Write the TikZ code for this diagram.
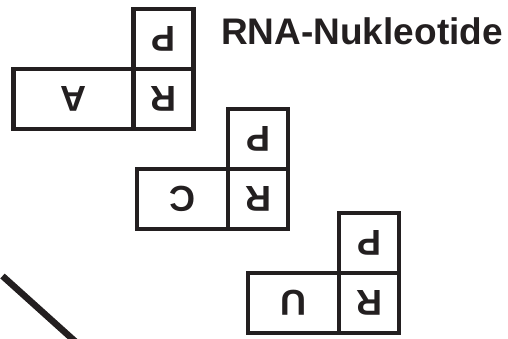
\documentclass[tikz,border=0pt]{standalone}
\usepackage{fontspec}
\setmainfont{Liberation Sans}
\usepackage{graphicx}
\usetikzlibrary{positioning}
\definecolor{ink}{HTML}{231F20}
\newcommand{\flipped}[1]{\rotatebox[origin=c]{180}{#1}}
\tikzset{
    unit-box/.style = {draw=ink, line width=4.5pt, rectangle, outer sep=0pt, inner sep=0pt, minimum width=60pt, minimum height=60pt, text=ink, font=\fontsize{36}{36}\selectfont\bfseries},
    base-box/.style = {unit-box, minimum width=#1},
    title-text/.style = {text=ink, font=\fontsize{37}{37}\selectfont\bfseries, inner sep=0pt, anchor=base west},
}

\begin{document}
\begin{tikzpicture}[x=1pt,y=1pt]
\useasboundingbox (0,0) rectangle (508,338);
\clip (0,0) rectangle (508,338);

\node [unit-box] (ribose-a) at (163.5,239) {\flipped{R}};
\node [unit-box, above=0pt of ribose-a] (phosphate-a) {\flipped{P}};
\node [base-box=120pt, left=0pt of ribose-a] (base-a) {\flipped{A}};

\node [unit-box] (ribose-c) at (258,139) {\flipped{R}};
\node [unit-box, above=0pt of ribose-c] (phosphate-c) {\flipped{P}};
\node [base-box=91pt, left=0pt of ribose-c] (base-c) {\flipped{C}};

\node [unit-box] (ribose-u) at (369,35) {\flipped{R}};
\node [unit-box, above=0pt of ribose-u] (phosphate-u) {\flipped{P}};
\node [base-box=91pt, left=0pt of ribose-u] (base-u) {\flipped{U}};

\node [title-text] (title) at (221,293) {RNA-Nukleotide};

\coordinate (cut-start) at (2.5,62);
\coordinate (cut-end) at (90,-16.75);
\draw [ink, line width=6.5pt] (cut-start) -- (cut-end);
\end{tikzpicture}
\end{document}
